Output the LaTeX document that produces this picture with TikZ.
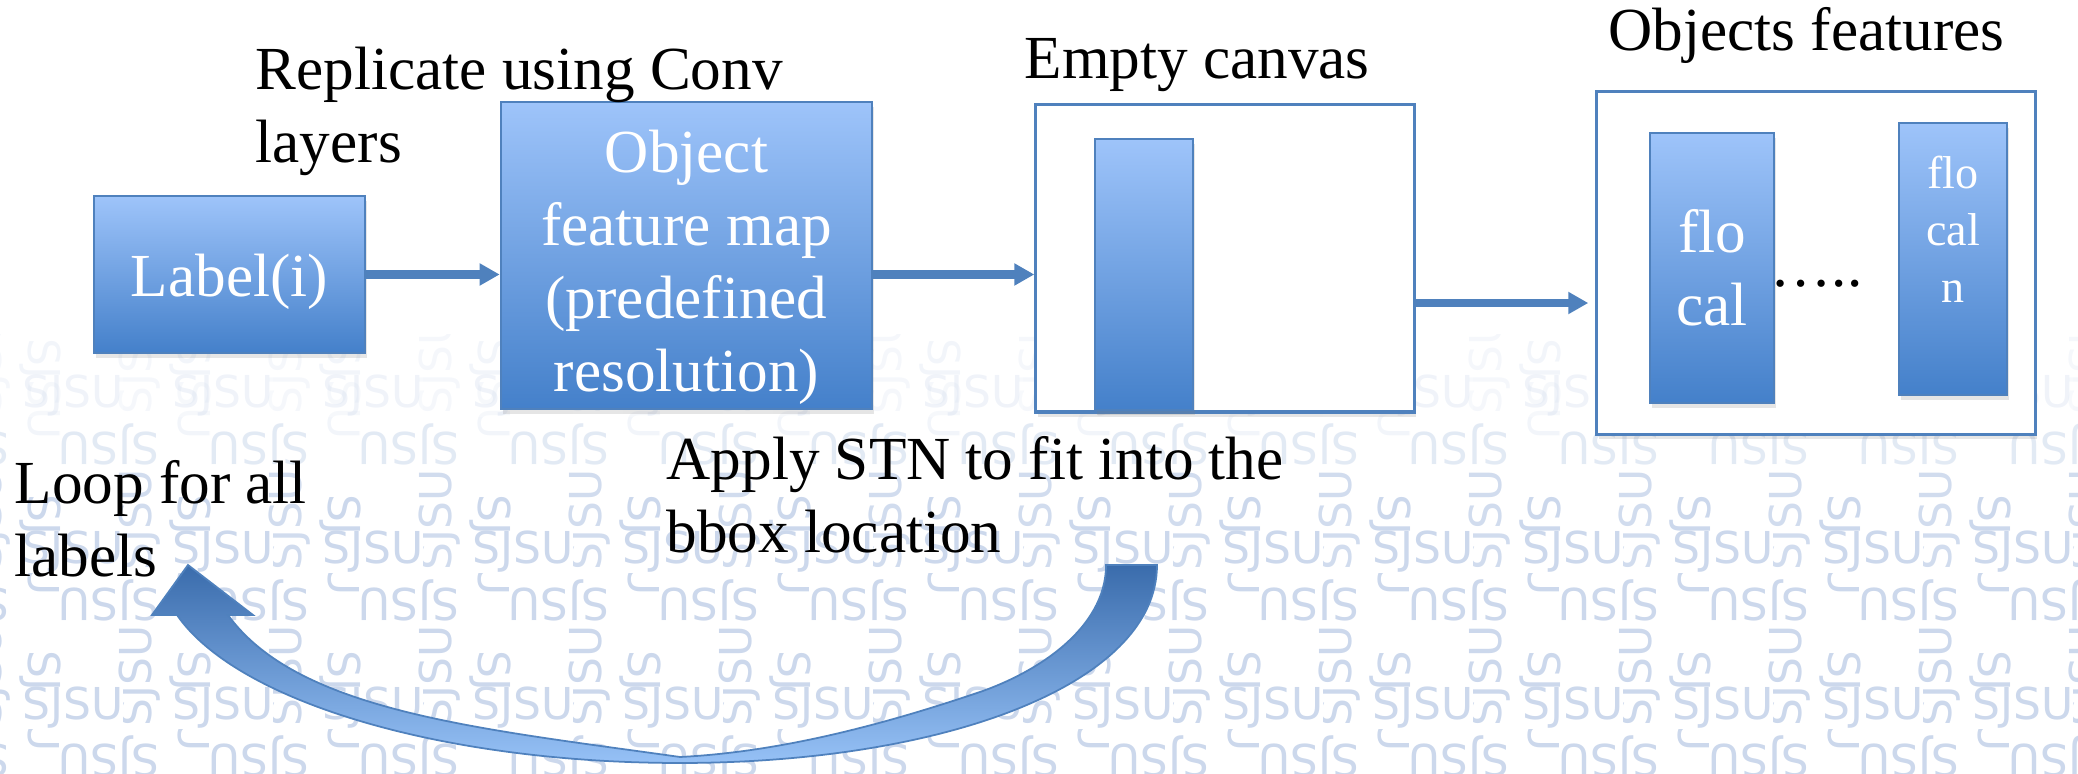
\documentclass[tikz,border=0pt]{standalone}
\usepackage{fontspec}
\setmainfont{Liberation Serif}
\newfontfamily\wmfont{DejaVu Sans}
\usepackage{tikz}
\usetikzlibrary{arrows.meta, shadows}

\definecolor{accent}{RGB}{79,129,189}
\definecolor{boxtop}{RGB}{158,196,250}
\definecolor{boxbot}{RGB}{68,128,202}
\definecolor{wmblue}{RGB}{204,216,236}
\definecolor{loopdark}{RGB}{58,108,172}
\definecolor{looplight}{RGB}{150,193,246}

\begin{document}
\begin{tikzpicture}[x=0.01cm, y=-0.01cm,
    every node/.style={inner sep=0pt, font=\fontsize{17.4}{20.8}\selectfont},
    boxshadow/.style={drop shadow={shadow xshift=0.02cm, shadow yshift=-0.05cm, opacity=0.2}},
    fbox/.style={boxshadow, draw=accent, line width=0.7pt, top color=boxtop, bottom color=boxbot,
                 text=white, align=center},
    whitebox/.style={boxshadow, draw=accent, line width=0.9pt, fill=white},
    caption/.style={anchor=base west, align=left},
    flow/.style={accent, line width=2.3pt, -{Triangle[length=0.2cm, width=0.21cm]}},
    wm/.style={font=\wmfont\fontsize{12.5}{12.5}\selectfont, text=wmblue},
    wmrow/.style={wm, fill=white}]

    \useasboundingbox (0,0) rectangle (2078,774);

    % watermark
    \begin{scope}
        \clip (0,335) rectangle (2078,774);
        \foreach \j/\opu/\opf/\opa/\opb in {0/0.3/0.55/0.2/0.25, 1/1/1/0.9/1, 2/1/1/1/1} {
            \foreach \i in {-1,...,14} {
                \node[wm, opacity=\opa, rotate=90]  (wma\i\j) at ({-10+150*\i}, {364+156*\j}) {SJSU};
                \node[wm, opacity=\opb, rotate=-90] (wmb\i\j) at ({40+150*\i}, {389+156*\j}) {SJSU};
            }
            \foreach \i in {-1,...,14} {
                \node[wmrow, opacity=\opu]             (wmu\i\j) at ({73+150*\i}, {396+156*\j}) {SJSU};
                \node[wmrow, opacity=\opf, rotate=180] (wmf\i\j) at ({109+150*\i}, {444+156*\j}) {SJSU};
            }
        }
    \end{scope}

    \node[fbox, minimum width=2.71cm, minimum height=1.57cm, text height=0.45cm, text depth=0pt]
        (lbl) at (229.5,274.5) {Label(i)};
    \node[fbox, minimum width=3.71cm, minimum height=3.07cm]
        (objmap) at (686.5,255.5) {\rule{0pt}{0.66cm}Object\\feature map\\(predefined\\resolution)};
    \node[whitebox, minimum width=3.78cm, minimum height=3.07cm] (canvas) at (1225,258.5) {};
    \node[fbox, minimum width=0.98cm, minimum height=2.71cm] (stnbar) at (1144,274.5) {};
    \node[whitebox, minimum width=4.38cm, minimum height=3.42cm] (objects) at (1816,263) {};
    \node[fbox, minimum width=1.24cm, minimum height=2.70cm] (feat1) at (1712,268) {flo\\cal};
    \node[fbox, minimum width=1.08cm, minimum height=2.72cm] (featn) at (1953,259) {};
    \node[text=white, align=center, font=\fontsize{13.1}{16.2}\selectfont]
        (featntext) at ([yshift=0.3cm]featn.center) {flo\\cal\\n};
    \node[anchor=base west] (dots) at (1770,287) {\char"2026..};

    \node[caption] (conv)   at (255,163)  {Replicate using Conv\\layers};
    \node[caption] (empty)  at (1024,79)  {Empty canvas};
    \node[caption] (feats)  at (1608,51)  {Objects features};
    \node[caption] (stn)    at (666,553)  {Apply STN to fit into the\\bbox location};
    \node[caption] (loop)   at (14,577)   {Loop for all\\labels};

    \draw[flow] (lbl.east) -- (lbl.east -| objmap.west);
    \draw[flow] (lbl.east -| objmap.east) -- (lbl.east -| canvas.west);
    \draw[flow, shorten >=0.07cm] ([yshift=-0.445cm]canvas.east) -- ([yshift=-0.445cm]canvas.east -| objects.west);

    % curved loop arrow
    \path[draw=accent, line width=0.5pt, top color=loopdark, bottom color=looplight]
        (1157,565) .. controls (1157,685) and (943,763) .. (680,763)
        .. controls (443,763) and (237,702) .. (177,615)
        -- (152,615) -- (188,565) -- (253,615) -- (228,615)
        .. controls (298,712) and (482,729) .. (680,757)
        .. controls (780,752) and (882,725) .. (977,693)
        .. controls (1034,674) and (1106,630) .. (1106,565)
        -- cycle;

\end{tikzpicture}
\end{document}
